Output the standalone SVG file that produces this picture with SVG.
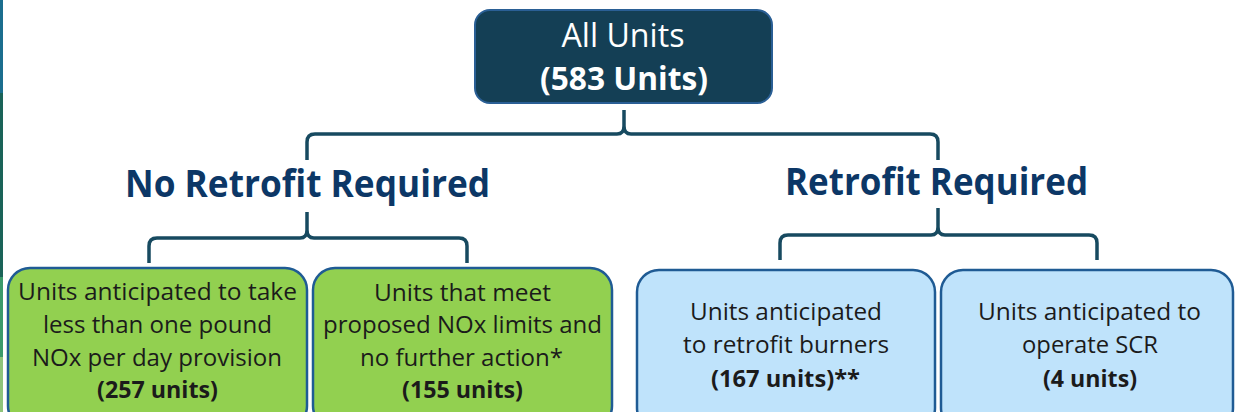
<svg xmlns="http://www.w3.org/2000/svg" width="1235" height="412" viewBox="0 0 1235 412">
<style>
.body{font-family:"Open Sans","Noto Sans",sans-serif;font-size:23.5px;fill:#1b1b1b;text-anchor:middle}
.b{font-weight:bold}
.head{font-family:"Open Sans","Noto Sans",sans-serif;font-size:37px;font-weight:bold;fill:#0c3766;text-anchor:middle}
.top{font-family:"Open Sans","Noto Sans",sans-serif;font-size:32px;fill:#ffffff;text-anchor:middle}
.brace{fill:none;stroke:#174a60;stroke-width:3.5;stroke-linejoin:round;stroke-linecap:butt}
.green{fill:#92d050;stroke:#1f5b94;stroke-width:2.5}
.blue{fill:#bfe3fb;stroke:#1f5b94;stroke-width:2.5}
</style>
<rect width="1235" height="412" fill="#ffffff"/>
<g id="edge-strip">
<rect x="0" y="0" width="3" height="93" fill="#1b6e8e"/>
<rect x="0" y="93" width="3" height="184" fill="#1a6358"/>
<rect x="0" y="277" width="3" height="80" fill="#3a9a6a"/>
<rect x="0" y="357" width="3" height="55" fill="#8fc47a"/>
</g>
<g id="connectors">
<path class="brace" d="M307,160 V142 Q307,134 315,134 H617 Q624,134 624,126 V110 M624,126 Q624,134 631,134 H930 Q938,134 938,142 V160"/>
<path class="brace" d="M149,263 V246 Q149,238 157,238 H300 Q307,238 307,230 V212 M307,230 Q307,238 314,238 H459 Q467,238 467,246 V263"/>
<path class="brace" d="M780,260 V243 Q780,235 788,235 H931 Q938,235 938,227 V208 M938,227 Q938,235 945,235 H1089 Q1097,235 1097,243 V260"/>
</g>
<g id="all-units">
<rect x="475" y="10" width="297" height="93" rx="15" fill="#143f55" stroke="#2a5f95" stroke-width="2"/>
<text class="top" x="623" y="47" textLength="123" lengthAdjust="spacingAndGlyphs">All Units</text>
<text class="top b" x="624" y="90" textLength="168" lengthAdjust="spacingAndGlyphs">(583 Units)</text>
</g>
<g id="no-retrofit-heading">
<text class="head" x="307.5" y="197" textLength="365" lengthAdjust="spacingAndGlyphs">No Retrofit Required</text>
</g>
<g id="retrofit-heading">
<text class="head" x="936.5" y="195" textLength="303" lengthAdjust="spacingAndGlyphs">Retrofit Required</text>
</g>
<g id="one-pound">
<rect class="green" x="8" y="268" width="299" height="160" rx="22"/>
<text class="body" x="157.5" y="300" textLength="279" lengthAdjust="spacingAndGlyphs">Units anticipated to take</text>
<text class="body" x="157.5" y="333" textLength="229" lengthAdjust="spacingAndGlyphs">less than one pound</text>
<text class="body" x="157" y="366" textLength="250" lengthAdjust="spacingAndGlyphs">NOx per day provision</text>
<text class="body b" x="157.5" y="398" textLength="121" lengthAdjust="spacingAndGlyphs">(257 units)</text>
</g>
<g id="meet-limits">
<rect class="green" x="313" y="268" width="299" height="160" rx="22"/>
<text class="body" x="462.5" y="301" textLength="177" lengthAdjust="spacingAndGlyphs">Units that meet</text>
<text class="body" x="462.5" y="333" textLength="279" lengthAdjust="spacingAndGlyphs">proposed NOx limits and</text>
<text class="body" x="461.5" y="366" textLength="203" lengthAdjust="spacingAndGlyphs">no further action*</text>
<text class="body b" x="462.5" y="398" textLength="121" lengthAdjust="spacingAndGlyphs">(155 units)</text>
</g>
<g id="retrofit-burners">
<rect class="blue" x="637" y="270" width="298" height="160" rx="22"/>
<text class="body" x="786" y="320" textLength="192" lengthAdjust="spacingAndGlyphs">Units anticipated</text>
<text class="body" x="786" y="353" textLength="206" lengthAdjust="spacingAndGlyphs">to retrofit burners</text>
<text class="body b" x="785.5" y="387" textLength="149" lengthAdjust="spacingAndGlyphs">(167 units)**</text>
</g>
<g id="operate-scr">
<rect class="blue" x="941" y="270" width="292" height="160" rx="22"/>
<text class="body" x="1089.5" y="320" textLength="223" lengthAdjust="spacingAndGlyphs">Units anticipated to</text>
<text class="body" x="1090" y="353" textLength="136" lengthAdjust="spacingAndGlyphs">operate SCR</text>
<text class="body b" x="1090" y="387" textLength="94" lengthAdjust="spacingAndGlyphs">(4 units)</text>
</g>
</svg>
